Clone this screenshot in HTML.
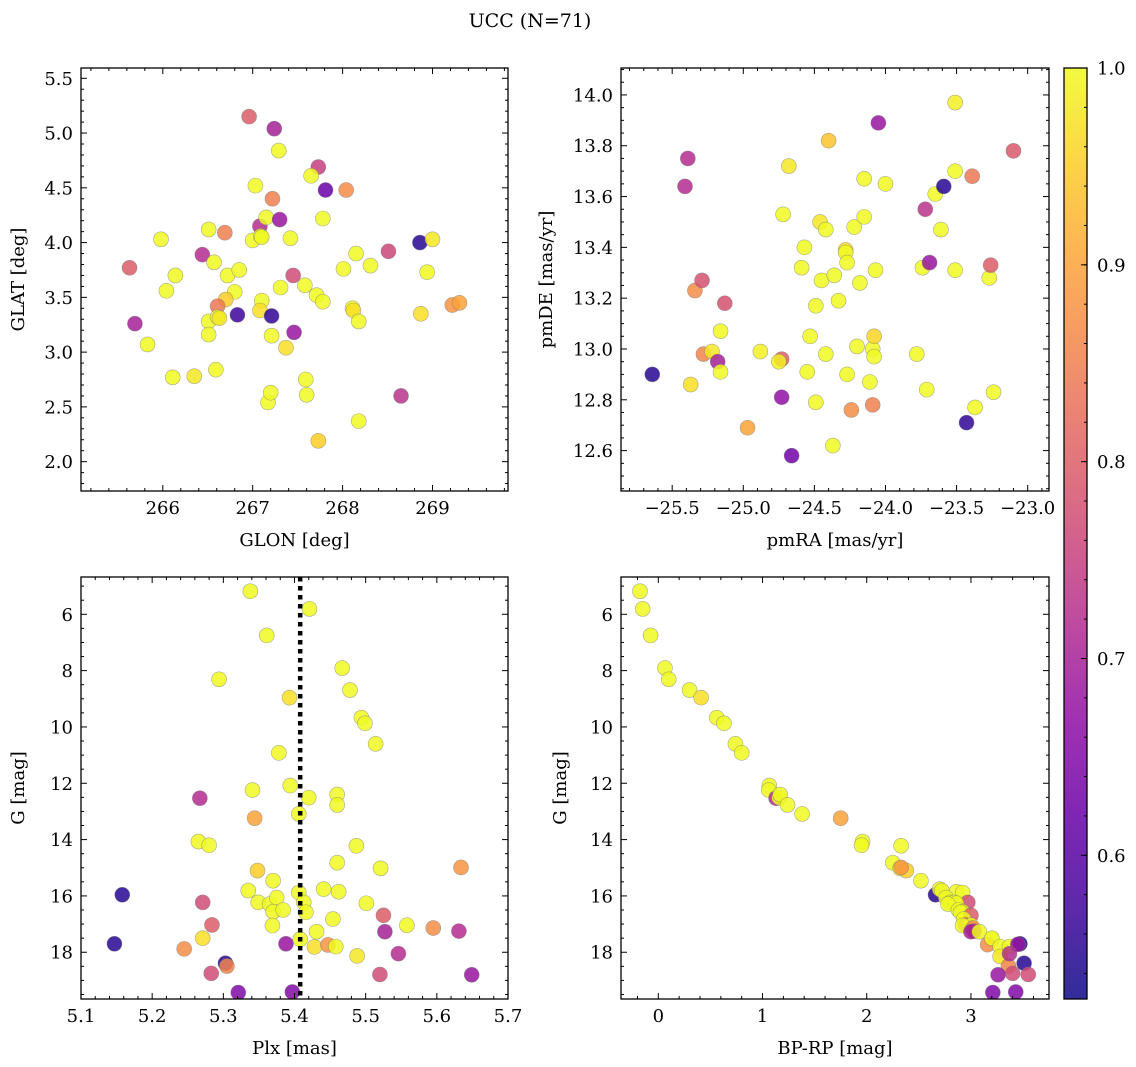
<!DOCTYPE html>
<html><head><meta charset="utf-8"><style>
html,body{margin:0;padding:0;background:#fff;}
svg{display:block;font-family:"DejaVu Serif","Liberation Serif",serif;}
</style></head><body>
<svg id="fig" width="1136" height="1067" viewBox="0 0 1136 1067" xmlns="http://www.w3.org/2000/svg">
<text x="530" y="27" font-size="19" text-anchor="middle">UCC (N=71)</text>
</svg>
<script>
// ---- Panel 1: GLON vs GLAT ----
const glonX=[266.96,267.24,267.29,267.73,267.65,267.81,268.04,267.03,267.22,267.08,267.15,267.30,267.78,266.51,266.69,267.00,267.09,267.10,267.42,265.98,268.86,269.0,265.63,266.44,266.57,266.14,266.72,266.85,267.45,267.58,268.01,268.15,268.31,268.51,268.94,266.04,266.80,266.70,266.61,267.10,267.08,267.31,267.71,267.78,268.11,268.12,268.18,268.87,269.22,269.30,265.69,266.51,266.61,266.63,266.83,267.21,266.51,267.21,267.46,267.37,265.83,266.11,266.35,266.59,267.17,267.20,267.59,267.60,268.65,268.18,267.73];
const glatY=[5.15,5.04,4.84,4.69,4.61,4.48,4.48,4.52,4.40,4.15,4.23,4.21,4.22,4.12,4.09,4.02,4.06,4.05,4.04,4.03,4.00,4.03,3.77,3.89,3.82,3.70,3.70,3.75,3.70,3.61,3.76,3.90,3.79,3.92,3.73,3.56,3.55,3.48,3.42,3.47,3.38,3.59,3.52,3.46,3.40,3.38,3.28,3.35,3.43,3.45,3.26,3.28,3.32,3.31,3.34,3.33,3.16,3.15,3.18,3.04,3.07,2.77,2.78,2.84,2.54,2.63,2.75,2.61,2.60,2.37,2.19];
const glP=[0.8,0.7,1,0.75,1,0.62,0.87,1,0.85,0.72,1,0.68,1,1,0.85,1,1,1,1,1,0.55,0.98,0.8,0.72,1,1,1,1,0.77,1,1,1,1,0.76,1,1,1,0.95,0.84,1,0.97,1,1,1,1,0.97,1,0.97,0.88,0.9,0.7,1,1,0.98,0.57,0.56,1,1,0.68,0.97,1,1,0.98,1,1,1,1,1,0.73,1,0.95];
// ---- Panel 2: pmRA vs pmDE ----
const pmraX=[-25.64,-25.41,-25.39,-25.37,-25.34,-25.29,-25.28,-25.22,-25.18,-25.16,-25.16,-25.13,-24.97,-24.88,-24.73,-24.75,-24.73,-24.72,-24.68,-24.66,-24.57,-24.59,-24.55,-24.53,-24.49,-24.49,-24.46,-24.45,-24.42,-24.42,-24.40,-24.37,-24.36,-24.33,-24.28,-24.28,-24.27,-24.27,-24.24,-24.22,-24.20,-24.18,-24.15,-24.15,-24.11,-24.09,-24.08,-24.08,-24.09,-24.07,-24.05,-24.00,-23.78,-23.74,-23.72,-23.71,-23.69,-23.65,-23.61,-23.59,-23.51,-23.51,-23.51,-23.43,-23.39,-23.37,-23.27,-23.26,-23.24,-23.10];
const pmdeY=[12.90,13.64,13.75,12.86,13.23,13.27,12.98,12.99,12.95,13.07,12.91,13.18,12.69,12.99,12.96,12.95,12.81,13.53,13.72,12.58,13.40,13.32,12.91,13.05,13.17,12.79,13.50,13.27,13.47,12.98,13.82,12.62,13.29,13.19,13.39,13.38,13.34,12.90,12.76,13.48,13.01,13.26,13.67,13.52,12.87,13.00,12.97,13.05,12.78,13.31,13.89,13.65,12.98,13.32,13.55,12.84,13.34,13.61,13.47,13.64,13.97,13.70,13.31,12.71,13.68,12.77,13.28,13.33,12.83,13.78];
const pmP=[0.55,0.72,0.72,0.97,0.87,0.78,0.86,0.98,0.70,1,1,0.78,0.9,0.99,0.8,0.99,0.67,1,0.98,0.63,1,1,1,1,1,1,0.98,1,1,1,0.94,1,1,1,0.97,1,1,1,0.87,1,1,1,1,1,1,1,1,0.96,0.85,1,0.68,1,1,1,0.73,1,0.68,1,1,0.55,0.99,1,1,0.56,0.84,1,1,0.8,1,0.79];
// ---- Panel 3: Plx vs G ----
const plxX=[5.338,5.421,5.361,5.467,5.294,5.478,5.393,5.494,5.499,5.514,5.378,5.394,5.341,5.420,5.460,5.460,5.267,5.406,5.344,5.265,5.280,5.487,5.460,5.521,5.634,5.348,5.370,5.335,5.406,5.441,5.462,5.158,5.349,5.365,5.375,5.370,5.384,5.413,5.416,5.501,5.271,5.525,5.369,5.454,5.284,5.558,5.595,5.631,5.527,5.431,5.271,5.408,5.147,5.245,5.388,5.428,5.447,5.458,5.488,5.546,5.303,5.305,5.283,5.520,5.649,5.321,5.397];
const gmagY=[5.18,5.81,6.75,7.91,8.31,8.69,8.96,9.67,9.87,10.60,10.92,12.08,12.24,12.51,12.40,12.77,12.53,13.09,13.24,14.07,14.20,14.22,14.82,15.02,14.99,15.10,15.46,15.81,15.88,15.76,15.85,15.96,16.23,16.29,16.06,16.56,16.50,16.23,16.58,16.26,16.23,16.69,17.05,16.82,17.03,17.04,17.14,17.25,17.27,17.27,17.50,17.54,17.70,17.88,17.70,17.81,17.74,17.80,18.13,18.05,18.39,18.49,18.75,18.79,18.80,19.43,19.41];
const plxP=[1,1,1,1,1,1,0.97,1,1,1,1,1,1,1,1,1,0.72,1,0.9,1,1,1,1,1,0.88,0.95,1,1,1,1,1,0.55,1,1,1,1,1,1,1,1,0.77,0.8,1,1,0.8,1,0.87,0.72,0.7,1,0.97,1,0.55,0.87,0.68,0.97,0.88,1,0.98,0.72,0.55,0.86,0.77,0.77,0.68,0.65,0.65];
// ---- Panel 4: BP-RP vs G ----
const bprpX=[-0.176,-0.15,-0.074,0.064,0.10,0.30,0.41,0.56,0.63,0.74,0.80,1.065,1.06,1.13,1.16,1.17,1.24,1.38,1.75,1.96,1.95,2.33,2.25,2.32,2.38,2.33,2.52,2.66,2.70,2.72,2.86,2.92,2.76,2.80,2.97,2.84,2.86,2.78,2.88,2.92,2.90,3.0,2.93,2.95,3.0,2.92,3.02,3.03,3.0,3.08,3.2,3.16,3.20,3.28,3.28,3.37,3.47,3.45,3.51,3.36,3.40,3.55,3.26,3.21,3.43,3.37];
const cmdY=[5.18,5.81,6.75,7.91,8.31,8.69,8.96,9.67,9.87,10.60,10.92,12.08,12.24,12.53,12.51,12.40,12.77,13.09,13.24,14.07,14.20,14.22,14.82,15.02,15.10,14.99,15.46,15.96,15.76,15.81,15.85,15.88,16.06,16.23,16.23,16.23,16.26,16.29,16.50,16.56,16.58,16.69,16.82,17.03,17.04,17.05,17.14,17.25,17.27,17.27,17.54,17.73,17.50,17.80,18.15,17.80,17.70,17.72,18.39,18.49,18.75,18.79,18.80,19.43,19.41,18.05];
const cmdP=[1,1,1,1,1,1,0.97,1,1,1,1,1,1,0.72,1,1,1,1,0.9,1,1,1,1,1,0.95,0.88,1,0.55,1,1,1,1,1,1,0.77,1,1,1,1,1,1,0.8,1,0.8,1,1,0.87,0.72,0.7,1,1,0.87,1,1,0.98,1,0.55,0.68,0.55,0.86,0.77,0.77,0.68,0.65,0.65,0.72];
// colour scale limits
const cTicks=[0.6,0.7,0.8,0.9,1.0];
const vmin=0.527, vmax=1.0;

const NS="http://www.w3.org/2000/svg";
const svg=document.getElementById('fig');
const FS=18;
function el(tag,attrs,parent){const e=document.createElementNS(NS,tag);for(const k in attrs)e.setAttribute(k,attrs[k]);(parent||svg).appendChild(e);return e;}
const stops=["#0d0887","#41049d","#6a00a8","#8f0da4","#b12a90","#cc4778","#e16462","#f2844b","#fca636","#fcce25","#f0f921"];
function hex(h){return [parseInt(h.slice(1,3),16),parseInt(h.slice(3,5),16),parseInt(h.slice(5,7),16)];}
function plasma(t){t=Math.max(0,Math.min(1,t));const f=t*10,i=Math.min(9,Math.floor(f)),r=f-i;const a=hex(stops[i]),b=hex(stops[i+1]);return 'rgb('+a.map((v,k)=>Math.round(v+(b[k]-v)*r)).join(',')+')';}
function col(p){return plasma((p-vmin)/(vmax-vmin));}
function fmt(v,d){const s=v.toFixed(d);return v<0?'\u2212'+s.slice(1):s;}

function panel(cfg,xs,ys,ps){
  const g=el('g',{});
  
  
  const L=cfg.L,R=cfg.R,T=cfg.T,B=cfg.B;
  const sx=v=>L+(v-cfg.x0)/(cfg.x1-cfg.x0)*(R-L);
  const sy=cfg.inv?(v=>T+(v-cfg.y0)/(cfg.y1-cfg.y0)*(B-T)):(v=>B-(v-cfg.y0)/(cfg.y1-cfg.y0)*(B-T));
  const clip='c'+cfg.name;
  const cp=el('clipPath',{id:clip},g);el('rect',{x:L,y:T,width:R-L,height:B-T},cp);
  const pg=el('g',{'clip-path':'url(#'+clip+')'},g);
  for(let i=0;i<xs.length;i++){
    const c=el('circle',{cx:sx(xs[i]),cy:sy(ys[i]),r:7.5,fill:col(ps[i]),'fill-opacity':0.85,stroke:'#777','stroke-opacity':0.6,'stroke-width':0.6},pg);
    
    
  }
  if(cfg.vline!==undefined){
    const vl=el('line',{x1:sx(cfg.vline),x2:sx(cfg.vline),y1:T,y2:B,stroke:'#000','stroke-width':4.5,'stroke-dasharray':'4.5 4.5'},g);
    
    
  }
  const eps=1e-6;
  for(let k=Math.ceil(cfg.x0/cfg.xm-eps);k*cfg.xm<=cfg.x1+eps;k++){
    const v=k*cfg.xm,x=sx(v);
    const maj=Math.abs(v/cfg.xM-Math.round(v/cfg.xM))<1e-4;
    const len=maj?6:3;
    el('line',{x1:x,x2:x,y1:B,y2:B-len,stroke:'#000','stroke-width':1},g);
    el('line',{x1:x,x2:x,y1:T,y2:T+len,stroke:'#000','stroke-width':1},g);
    if(maj){const t=el('text',{x:x,y:B+23,'font-size':FS,'text-anchor':'middle'},g);t.textContent=fmt(v,cfg.xd);
      }
  }
  const ylo=Math.min(cfg.y0,cfg.y1),yhi=Math.max(cfg.y0,cfg.y1);
  for(let k=Math.ceil(ylo/cfg.ym-eps);k*cfg.ym<=yhi+eps;k++){
    const v=k*cfg.ym,y=sy(v);
    const maj=Math.abs(v/cfg.yM-Math.round(v/cfg.yM))<1e-4;
    const len=maj?6:3;
    el('line',{x1:L,x2:L+len,y1:y,y2:y,stroke:'#000','stroke-width':1},g);
    el('line',{x1:R,x2:R-len,y1:y,y2:y,stroke:'#000','stroke-width':1},g);
    if(maj){const t=el('text',{x:L-8,y:y+6.5,'font-size':FS,'text-anchor':'end'},g);t.textContent=fmt(v,cfg.yd);
      }
  }
  el('rect',{x:L,y:T,width:R-L,height:B-T,fill:'none',stroke:'#000','stroke-width':1.3},g);
  const xl=el('text',{x:(L+R)/2,y:B+55,'font-size':FS,'text-anchor':'middle'},g);xl.textContent=cfg.xl;
  
  const yx=cfg.ylx,yy=(T+B)/2;
  const yl=el('text',{x:yx,y:yy,'font-size':FS,'text-anchor':'middle',transform:'rotate(-90 '+yx+' '+yy+')'},g);yl.textContent=cfg.yl;
  
}
panel({name:'glon-glat-panel',L:81,R:508,T:68,B:491,x0:265.09,x1:269.84,y0:1.732,y1:5.594,xM:1,xm:0.2,yM:0.5,ym:0.1,xd:0,yd:1,xl:'GLON [deg]',yl:'GLAT [deg]',ylx:24},glonX,glatY,glP);
panel({name:'pm-panel',L:621,R:1049,T:68,B:491,x0:-25.86,x1:-22.85,y0:12.441,y1:14.106,xM:0.5,xm:0.1,yM:0.2,ym:0.05,xd:1,yd:1,xl:'pmRA [mas/yr]',yl:'pmDE [mas/yr]',ylx:552},pmraX,pmdeY,pmP);
panel({name:'plx-g-panel',L:81,R:508,T:577,B:999,x0:5.1,x1:5.7,y0:4.676,y1:19.66,inv:true,xM:0.1,xm:0.02,yM:2,ym:0.5,xd:1,yd:0,xl:'Plx [mas]',yl:'G [mag]',ylx:24,vline:5.408},plxX,gmagY,plxP);
panel({name:'cmd-panel',L:621,R:1049,T:577,B:999,x0:-0.358,x1:3.749,y0:4.676,y1:19.66,inv:true,xM:1,xm:0.2,yM:2,ym:0.5,xd:0,yd:0,xl:'BP-RP [mag]',yl:'G [mag]',ylx:566},bprpX,cmdY,cmdP);

(function(){
  const g=el('g',{});
  
  
  const L=1064,R=1087,T=68,B=999;
  const grad=el('linearGradient',{id:'cbg',x1:0,y1:1,x2:0,y2:0},g);
  for(let i=0;i<=20;i++){const t=i/20;el('stop',{offset:t,'stop-color':plasma(t)},grad);}
  el('rect',{x:L,y:T,width:R-L,height:B-T,fill:'url(#cbg)','fill-opacity':0.85},g);
  const sy=v=>B-(v-vmin)/(vmax-vmin)*(B-T);
  for(let v=0.54;v<=1.0001;v+=0.02){const y=sy(v);el('line',{x1:R,x2:R-3,y1:y,y2:y,stroke:'#000','stroke-width':1},g);}
  cTicks.forEach(v=>{const y=sy(v);el('line',{x1:R,x2:R-6,y1:y,y2:y,stroke:'#000','stroke-width':1},g);
    const t=el('text',{x:R+10,y:y+6.5,'font-size':FS},g);t.textContent=v.toFixed(1);
    });
  el('rect',{x:L,y:T,width:R-L,height:B-T,fill:'none',stroke:'#000','stroke-width':1.3},g);
})();
</script>
</body></html>
